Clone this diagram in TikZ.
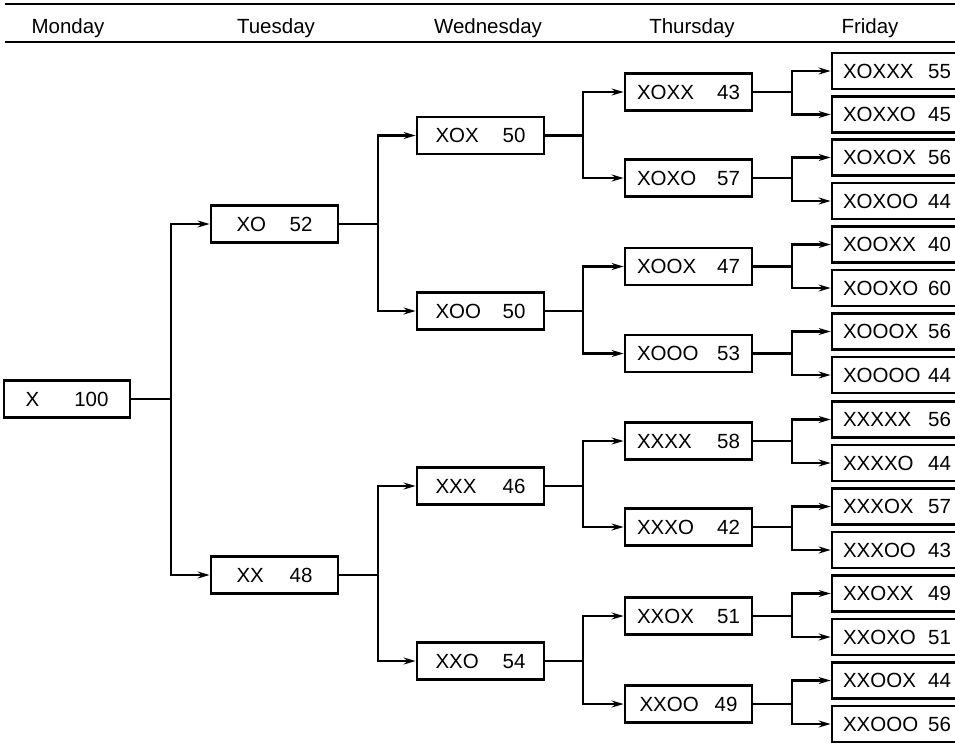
\documentclass[tikz,border=0pt]{standalone}
\usepackage{fontspec}
\setmainfont{Liberation Sans}
\usetikzlibrary{arrows.meta}
\newcommand\mylbl[3]{\makebox[#1pt]{#2\hfill#3}}
\begin{document}
\begin{tikzpicture}[x=1pt,y=-1pt,
  every node/.style={font=\fontsize{20.5}{24}\selectfont},
  nbox/.style={draw,line width=2.8pt,rectangle,minimum height=37pt,inner sep=0pt},
  mon/.style={nbox,minimum width=126pt},
  tue/.style={nbox,minimum width=127pt},
  wed/.style={nbox,minimum width=127pt},
  thu/.style={nbox,minimum width=127pt},
  fri/.style={nbox,minimum width=130pt,minimum height=36pt},
  hdr/.style={anchor=base},
  rule/.style={line width=2.8pt},
  conn/.style={line width=2.1pt},
  arr/.style={conn,-{Stealth[length=12pt,width=7pt,inset=4pt]}},
]
\clip (0,0) rectangle (955,748);
% header
\draw[rule] (5,4) -- (960,4);
\draw[rule] (5,42) -- (960,42);
\node[hdr] (hMon) at (68,33) {Monday};
\node[hdr] (hTue) at (276,33) {Tuesday};
\node[hdr] (hWed) at (488,33) {Wednesday};
\node[hdr] (hThu) at (692,33) {Thursday};
\node[hdr] (hFri) at (870,33) {Friday};
% Monday
\node[mon] (X) at (67,399) {\mylbl{83}{X}{100}};
% Tuesday
\node[tue] (XO) at (274.5,224) {\mylbl{76}{XO}{52}};
\node[tue] (XX) at (274.5,575) {\mylbl{76}{XX}{48}};
% Wednesday
\node[wed] (XOX) at (480.5,135.5) {\mylbl{90}{XOX}{50}};
\node[wed] (XOO) at (480.5,311) {\mylbl{90}{XOO}{50}};
\node[wed] (XXX) at (480.5,486) {\mylbl{90}{XXX}{46}};
\node[wed] (XXO) at (480.5,661) {\mylbl{90}{XXO}{54}};
% Thursday
\node[thu] (XOXX) at (688.5,92) {\mylbl{103}{XOXX}{43}};
\node[thu] (XOXO) at (688.5,178) {\mylbl{103}{XOXO}{57}};
\node[thu] (XOOX) at (688.5,266.5) {\mylbl{103}{XOOX}{47}};
\node[thu] (XOOO) at (688.5,353.5) {\mylbl{103}{XOOO}{53}};
\node[thu] (XXXX) at (688.5,441) {\mylbl{103}{XXXX}{58}};
\node[thu] (XXXO) at (688.5,527) {\mylbl{103}{XXXO}{42}};
\node[thu] (XXOX) at (688.5,616) {\mylbl{103}{XXOX}{51}};
\node[thu] (XXOO) at (688.5,704) {\mylbl{98}{XXOO}{49}};
% Friday
\node[fri] (XOXXX) at (897,71) {\mylbl{108}{XOXXX}{55}};
\node[fri] (XOXXO) at (897,114.5) {\mylbl{108}{XOXXO}{45}};
\node[fri] (XOXOX) at (897,157.5) {\mylbl{108}{XOXOX}{56}};
\node[fri] (XOXOO) at (897,201) {\mylbl{108}{XOXOO}{44}};
\node[fri] (XOOXX) at (897,244.5) {\mylbl{108}{XOOXX}{40}};
\node[fri] (XOOXO) at (897,288) {\mylbl{108}{XOOXO}{60}};
\node[fri] (XOOOX) at (897,331.5) {\mylbl{108}{XOOOX}{56}};
\node[fri] (XOOOO) at (897,375) {\mylbl{108}{XOOOO}{44}};
\node[fri] (XXXXX) at (897,419.5) {\mylbl{108}{XXXXX}{56}};
\node[fri] (XXXXO) at (897,463) {\mylbl{108}{XXXXO}{44}};
\node[fri] (XXXOX) at (897,506.5) {\mylbl{108}{XXXOX}{57}};
\node[fri] (XXXOO) at (897,550) {\mylbl{108}{XXXOO}{43}};
\node[fri] (XXOXX) at (897,593.5) {\mylbl{108}{XXOXX}{49}};
\node[fri] (XXOXO) at (897,637) {\mylbl{108}{XXOXO}{51}};
\node[fri] (XXOOX) at (897,680.5) {\mylbl{108}{XXOOX}{44}};
\node[fri] (XXOOO) at (897,724) {\mylbl{108}{XXOOO}{56}};
% bus coordinates
\coordinate (bX) at (171,399);
\coordinate (bXO) at (378,224);
\coordinate (bXX) at (378,575);
\coordinate (bXOX) at (583,135.5);
\coordinate (bXOO) at (583,311);
\coordinate (bXXX) at (583,486);
\coordinate (bXXO) at (583,661);
\foreach \n/\y in {XOXX/92,XOXO/178,XOOX/266.5,XOOO/353.5,XXXX/441,XXXO/527,XXOX/616,XXOO/704}
  \coordinate (b\n) at (792,\y);
% connectors
\foreach \p/\a/\b in {X/XO/XX, XO/XOX/XOO, XX/XXX/XXO,
  XOX/XOXX/XOXO, XOO/XOOX/XOOO, XXX/XXXX/XXXO, XXO/XXOX/XXOO,
  XOXX/XOXXX/XOXXO, XOXO/XOXOX/XOXOO, XOOX/XOOXX/XOOXO, XOOO/XOOOX/XOOOO,
  XXXX/XXXXX/XXXXO, XXXO/XXXOX/XXXOO, XXOX/XXOXX/XXOXO, XXOO/XXOOX/XXOOO}{
  \draw[conn] (\p.east) -- (b\p);
  \draw[arr] (b\p) |- (\a.west);
  \draw[arr] (b\p) |- (\b.west);
}
\end{tikzpicture}
\end{document}
